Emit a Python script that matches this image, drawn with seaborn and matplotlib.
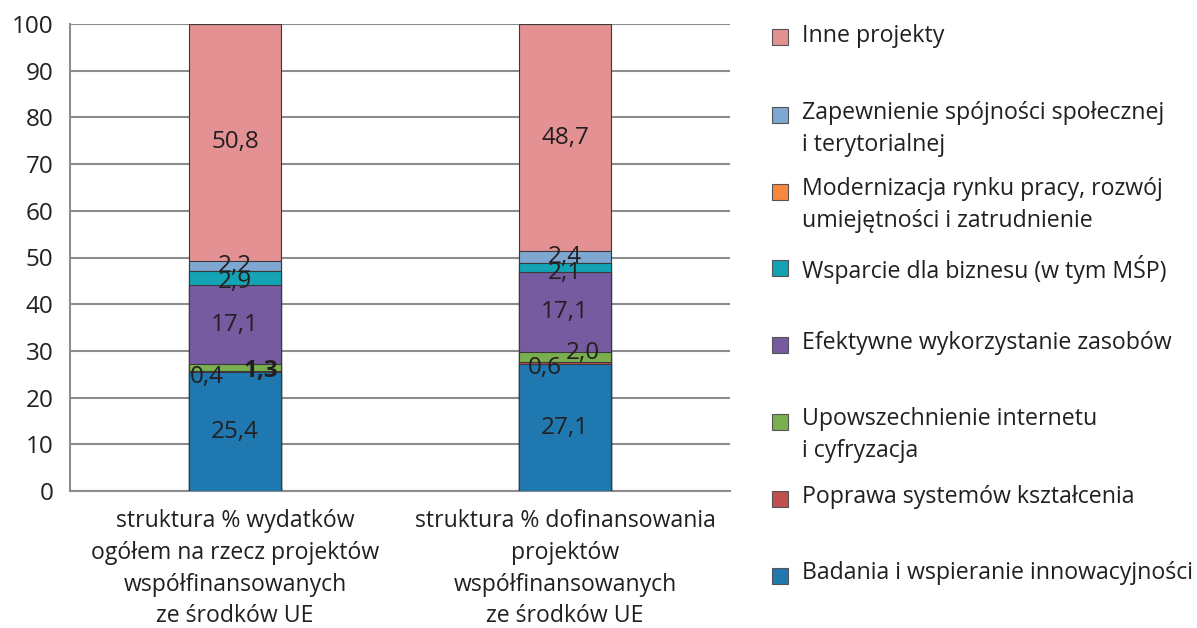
import matplotlib
matplotlib.use("Agg")
import matplotlib.pyplot as plt
import seaborn as sns
import pandas as pd
import numpy as np
from matplotlib.patches import Rectangle

categories = ["struktura % wydatków\nogółem na rzecz projektów\nwspółfinansowanych\nze środków UE",
              "struktura % dofinansowania\nprojektów\nwspółfinansowanych\nze środków UE"]

# series from bottom to top
series = ["Badania i wspieranie innowacyjności",
          "Poprawa systemów kształcenia",
          "Upowszechnienie internetu\ni cyfryzacja",
          "Efektywne wykorzystanie zasobów",
          "Wsparcie dla biznesu (w tym MŚP)",
          "Modernizacja rynku pracy, rozwój\numiejętności i zatrudnienie",
          "Zapewnienie spójności społecznej\ni terytorialnej",
          "Inne projekty"]
badania = [25.4, 27.1]
poprawa = [0.4, 0.6]
upowszechnienie = [1.3, 2.0]
efektywne = [17.1, 17.1]
wsparcie = [2.9, 2.1]
modernizacja = [0.0, 0.0]
zapewnienie = [2.2, 2.4]
inne = [50.8, 48.7]
values = [badania, poprawa, upowszechnienie, efektywne, wsparcie, modernizacja, zapewnienie, inne]
labels_txt = [["25,4", "27,1"], ["0,4", "0,6"], ["1,3", "2,0"], ["17,1", "17,1"],
              ["2,9", "2,1"], None, ["2,2", "2,4"], ["50,8", "48,7"]]

colors = ["#1F78B0", "#C0504D", "#7AAF4F", "#765BA0", "#13A3B5", "#F7883E", "#7EA7D2", "#E39193"]

sns.set_style("white")
plt.rcParams['font.family'] = ['Open Sans', 'DejaVu Sans']

fig = plt.figure(figsize=(11.97, 6.28), dpi=100)
ax = fig.add_axes([70/1197, 1-491/628, 660/1197, 467/628])

cum = np.cumsum(np.array(values), axis=0)
# draw cumulative totals from top down so each layer covers the one above
for i in range(len(series) - 1, -1, -1):
    df = pd.DataFrame({"cat": [0, 1], "val": cum[i]})
    sns.barplot(data=df, x="cat", y="val", color=colors[i], saturation=1, width=0.28,
                edgecolor="#3a3a3a", linewidth=0.8, ax=ax, zorder=3, order=[0, 1])

# value labels
xoff = {1: (-0.085, -0.06), 2: (0.08, 0.055)}
yoff = {1: (-1.2, -1.0), 2: (-0.8, 0.8), 4: (-0.8, -1.2), 6: (0.0, 0.0)}
for i, lab in enumerate(labels_txt):
    if lab is None:
        continue
    for j in range(2):
        mid = cum[i][j] - values[i][j] / 2
        dx = xoff.get(i, (0, 0))[j]
        dy = yoff.get(i, (0, 0))[j]
        w = "bold" if (i == 2 and j == 0) else "normal"
        ax.text(j + dx, mid + dy, lab[j], ha="center", va="center", fontsize=17.5,
                color="#231F20", fontweight=w, zorder=5)

ax.set_ylim(0, 100)
ax.set_xlim(-0.5, 1.5)
ax.set_yticks(range(0, 101, 10))
ax.yaxis.grid(True, color="#8c8c8c", linewidth=1.5, zorder=0)
ax.set_axisbelow(True)
ax.set_xticks([0, 1])
ax.set_xticklabels(categories, fontsize=16.6, color="#231F20", linespacing=1.43)
ax.set_xticks([-0.5, 0.5, 1.5], minor=True)
ax.tick_params(axis="x", which="major", length=0, pad=13)
ax.tick_params(axis="x", which="minor", length=7, color="#8c8c8c", width=1.5, direction="out")
ax.tick_params(axis="y", length=7, color="#8c8c8c", width=1.5, direction="out", labelsize=17.5,
               labelcolor="#231F20", pad=5)
ax.set_xlabel("")
ax.set_ylabel("")
for s in ["top", "right"]:
    ax.spines[s].set_visible(False)
for s in ["left", "bottom"]:
    ax.spines[s].set_color("#8c8c8c")
    ax.spines[s].set_linewidth(1.5)

# legend placed like the original (pixel positions of first line)
leg_y = [576, 499, 422, 345, 268, 192, 115, 37]
txt_y = [572, 496, 418, 342, 266, 188, 112, 35]
for i in range(len(series)):
    y = leg_y[i]
    fig.add_artist(Rectangle((772/1197, 1-(y+8)/628), 16/1197, 16/628,
                             facecolor=colors[i], edgecolor="#555555", linewidth=0.8,
                             transform=fig.transFigure))
    fig.text(802/1197, 1-(txt_y[i]-11)/628, series[i], ha="left", va="top", fontsize=16.7,
             color="#231F20", linespacing=1.45)

fig.savefig("out.png", dpi=100)
